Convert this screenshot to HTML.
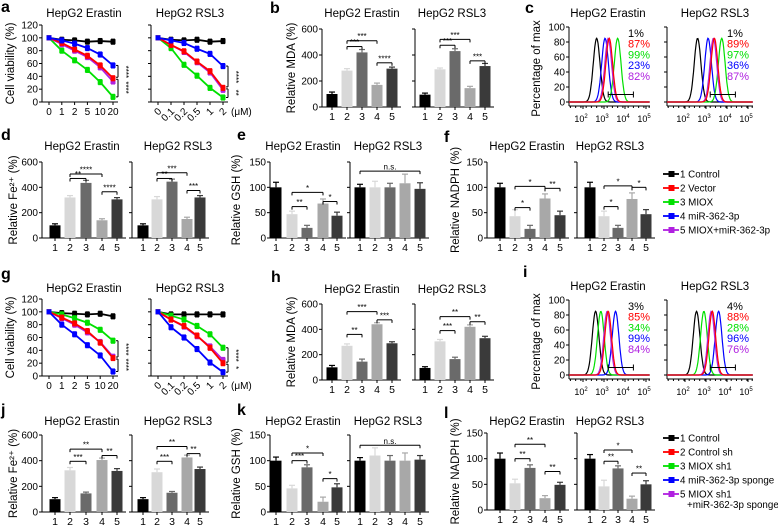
<!DOCTYPE html>
<html><head><meta charset="utf-8"><style>
body{margin:0;background:#fff}
svg{display:block;font-family:"Liberation Sans",Arial,sans-serif}
</style></head><body>
<svg id="fig" width="778" height="526" viewBox="0 0 778 526" xmlns="http://www.w3.org/2000/svg"></svg>
<script>
// ---------- DATA ----------
const lineCatsE = ["0","1","2","5","10","20"];
const lineCatsR = ["0","0.1","0.2","0.5","1","2"];
const seriesColors = ["#000000","#ff0000","#00e000","#0000ff","#b020e0"];
const aErastin = [[100,97,96,94,95,94],[100,92,82,72,57,37],[100,80,65,50,31,8],[100,96,91,84,74,57],[100,90,80,70,54,32]];
const aRSL3 = [[100,97,96,97,94,95],[100,89,79,63,48,22],[100,84,58,41,22,7],[100,96,92,83,75,56],[100,89,78,62,46,19]];
const gErastin = [[100,98,97,96,97,93],[100,91,82,70,52,28],[100,96,90,83,72,55],[100,80,65,48,32,7],[100,90,80,68,53,30]];
const gRSL3 = [[100,96,96,96,96,96],[100,88,78,63,44,20],[100,94,88,78,65,44],[100,76,60,42,21,6],[100,88,77,62,46,25]];
const viabTicks = [0,20,40,60,80,100,120];

const barCats = ["1","2","3","4","5"];
const barColors = ["#000000","#d8d8d8","#6a6a6a","#a8a8a8","#3a3a3a"];
const bE = [100,280,420,170,295], bEerr = [15,15,22,14,12];
const bR = [95,290,430,145,315], bRerr = [12,10,18,14,20];
const dE = [100,320,435,140,305], dEerr = [12,15,20,12,14];
const dR = [100,305,445,150,320], dRerr = [12,22,20,14,15];
const eE = [100,47,20,68,44], eEerr = [10,6,5,9,7];
const eR = [100,100,100,108,97], eRerr = [6,12,8,18,12];
const fE = [100,43,18,78,45], fEerr = [8,13,7,9,8];
const fR = [100,43,20,77,47], fRerr = [10,10,5,12,9];
const hE = [100,270,145,440,290], hEerr = [15,15,20,12,12];
const hR = [95,305,165,420,330], hRerr = [10,15,15,15,15];
const jE = [100,325,145,405,320], jEerr = [12,22,10,15,18];
const jR = [100,310,150,425,335], jRerr = [12,25,10,18,15];
const kE = [100,46,87,20,48], kEerr = [7,6,5,9,7];
const kR = [100,110,100,100,102], kRerr = [6,15,10,15,8];
const lE = [100,52,82,23,49], lEerr = [11,8,6,5,5];
const lR = [100,46,81,22,50], lRerr = [8,12,5,5,7];
const mdaTicks = [0,200,400,600];
const pctTicks = [0,50,100,150];

const flowTicks = [0,20,40,60,80,100];
const cEpeaks = [2.65,3.25,3.65,3.05,3.2];
const cRpeaks = [2.6,3.4,3.75,3.1,3.35];
const iEpeaks = [2.6,3.2,2.85,3.55,3.15];
const iRpeaks = [2.55,3.3,2.9,3.6,3.25];
const cEpct = ["1%","87%","99%","23%","82%"];
const cRpct = ["1%","89%","97%","36%","87%"];
const iEpct = ["3%","85%","34%","99%","84%"];
const iRpct = ["4%","88%","28%","96%","76%"];
const legend1 = ["1 Control","2 Vector","3 MIOX","4 miR-362-3p","5 MIOX+miR-362-3p"];
const legend2 = ["1 Control","2 Control sh","3 MIOX sh1","4 miR-362-3p sponge","5 MIOX sh1"];

// ---------- HELPERS ----------
const S = document.getElementById('fig');
const NS = "http://www.w3.org/2000/svg";
function el(tag, attrs, parent){ const e=document.createElementNS(NS,tag); for(const k in attrs) e.setAttribute(k,attrs[k]); (parent||S).appendChild(e); return e; }
function grp(name){ const g=el('g',{});   return g; }
function T(g,x,y,s,o){ o=o||{}; const t=el('text',{x:x,y:y,'font-size':o.fs||10,'text-anchor':o.a||'middle',fill:o.fill||'#000','font-weight':o.fw||'normal'},g); if(o.rot) t.setAttribute('transform','rotate('+o.rot+' '+x+' '+y+')'); t.textContent=s; return t; }
function L(g,x1,y1,x2,y2,c,w){ return el('line',{x1:x1,y1:y1,x2:x2,y2:y2,stroke:c||'#000','stroke-width':w||1},g); }
function letter(s,x,y){ const t=T(S,x,y,s,{fs:16,fw:'bold',a:'start'});   }

function yAxis(g,ax,y0,ytop,vmax,ticks,labels){
  L(g,ax,y0,ax,ytop);
  ticks.forEach(v=>{ const y=y0-(v/vmax)*(y0-ytop); L(g,ax-3,y,ax,y); if(labels) T(g,ax-4,y+3.5,String(v),{a:'end',fs:10}); });
}

function barPanel(name,p){
  const g=grp(name);
  const sy=v=>p.y0-(v/p.vmax)*(p.y0-p.ytop);
  yAxis(g,p.ax,p.y0,p.ytop,p.vmax,p.ticks,p.labels);
  L(g,p.ax,p.y0,p.xs[4]+9,p.y0);
  p.vals.forEach((v,i)=>{
    const b=el('rect',{x:p.xs[i]-5.5,y:sy(v),width:11,height:p.y0-sy(v),fill:barColors[i]},g);
     
    const ye=sy(v+p.errs[i]);
    L(g,p.xs[i],sy(v),p.xs[i],ye,barColors[i],1.2); L(g,p.xs[i]-3,ye,p.xs[i]+3,ye,barColors[i],1.2);
    L(g,p.xs[i],p.y0,p.xs[i],p.y0+3);
    T(g,p.xs[i],p.y0+13,barCats[i],{fs:10.5});
  });
  (p.sig||[]).forEach(s=>{ const y=sy(s[2]); L(g,p.xs[s[0]],y,p.xs[s[1]],y); L(g,p.xs[s[0]],y,p.xs[s[0]],y+3); L(g,p.xs[s[1]],y,p.xs[s[1]],y+3); T(g,(p.xs[s[0]]+p.xs[s[1]])/2,y-1.5,s[3],{fs:8}); });
  if(p.ylabel) T(g,p.ylx,(p.y0+p.ytop)/2,p.ylabel,{rot:-90,fs:11.5});
  T(g,p.tx,p.ty,p.title,{fs:11.5});
}

function linePanel(name,p){
  const g=grp(name);
  const sy=v=>p.y0-(v/120)*(p.y0-p.ytop);
  const sx=i=>p.x0+i*(p.x1-p.x0)/5;
  yAxis(g,p.ax,p.y0,p.ytop,120,viabTicks,p.labels);
  L(g,p.ax,p.y0,p.x1+5,p.y0);
  p.cats.forEach((c,i)=>{ L(g,sx(i),p.y0,sx(i),p.y0+3); if(p.rot) T(g,sx(i)+4,p.y0+10,c,{a:'end',rot:-45,fs:10}); else T(g,sx(i),p.y0+13,c,{fs:10}); });
  if(p.unit) T(g,p.x1+8,p.y0+13,'(μM)',{a:'start',fs:10});
  [0,2,4,1,3].forEach(k=>{
    const d=p.data[k]; const c=seriesColors[k];
    const pl=el('polyline',{points:d.map((v,i)=>sx(i)+','+sy(v)).join(' '),fill:'none',stroke:c,'stroke-width':1.8},g);
     
    d.forEach((v,i)=>{ const e=i?4:0; L(g,sx(i),sy(v+e),sx(i),sy(v-e),c,1); L(g,sx(i)-2,sy(v+e),sx(i)+2,sy(v+e),c,1); L(g,sx(i)-2,sy(v-e),sx(i)+2,sy(v-e),c,1); el('rect',{x:sx(i)-2.5,y:sy(v)-2.5,width:5,height:5,fill:c},g); });
  });
  const bx=p.x1+5; const ys=[p.data[p.top][5],p.data[1][5],p.data[p.low][5]].map(sy);
  L(g,bx,ys[0],bx,ys[1]-1); L(g,bx-2,ys[0],bx,ys[0]); L(g,bx-2,ys[1]-1,bx,ys[1]-1);
  L(g,bx,ys[1]+1,bx,ys[2]); L(g,bx-2,ys[1]+1,bx,ys[1]+1); L(g,bx-2,ys[2],bx,ys[2]);
  T(g,bx+5,(ys[0]+ys[1])/2,p.s1,{rot:90,fs:8}); T(g,bx+5,(ys[1]+ys[2])/2,p.s2,{rot:90,fs:8});
  if(p.ylabel) T(g,14,(p.y0+p.ytop)/2,p.ylabel,{rot:-90,fs:11.5});
  T(g,p.tx,p.ty,p.title,{fs:11.5});
}

function flowPanel(name,p){
  const g=grp(name);
  const sy=v=>p.y0-(v/100)*(p.y0-p.ytop);
  const sx=lg=>p.x2+(lg-2)*21;
  L(g,p.xl,p.y0+4,p.xl,p.ytop); L(g,p.xl,p.y0+4,p.xr,p.y0+4);
  flowTicks.forEach(v=>{ L(g,p.xl-3,sy(v),p.xl,sy(v)); if(p.labels) T(g,p.xl-4,sy(v)+3.5,String(v),{a:'end',fs:10}); });
  [2,3,4,5].forEach(d=>{ L(g,sx(d),p.y0+4,sx(d),p.y0+7); const t=T(g,sx(d)-2,p.y0+20,'10',{fs:9}); const s=el('tspan',{dy:-4,'font-size':6},t); s.textContent=String(d); });
  const lo=(p.xl-p.x2)/21+2, hi=(p.xr-p.x2)/21+2;
  for(let lg=Math.ceil(lo*10)/10; lg<hi; lg+=0.25){ L(g,sx(lg),p.y0+4,sx(lg),p.y0+6); }
  [0,3,2,4,1].forEach(k=>{
    const pts=[]; for(let lg=lo; lg<=hi; lg+=0.03){ const v=85*Math.exp(-Math.pow(lg-p.peaks[k],2)/(2*0.16*0.16)); pts.push(sx(lg).toFixed(1)+','+sy(v).toFixed(1)); }
    const pl=el('polyline',{points:pts.join(' '),fill:'none',stroke:seriesColors[k],'stroke-width':1.2},g);
     
  });
  const by=sy(10); L(g,sx(3.2),by,sx(4.4),by); L(g,sx(3.2),by-3,sx(3.2),by+3); L(g,sx(4.4),by-3,sx(4.4),by+3);
  p.pct.forEach((s,k)=>T(g,p.px,p.ytop+10+k*10.7,s,{fs:11,a:'start',fill:seriesColors[k]}));
  if(p.ylabel) T(g,p.ylx,(p.y0+p.ytop)/2+4,p.ylabel,{rot:-90,fs:11.5});
  T(g,p.tx,p.ty,p.title,{fs:11.5});
}

function legend(name,items,x,ys,extra){
  const g=grp(name);
  items.forEach((s,k)=>{ const y=ys[k]; L(g,x,y,x+16,y,seriesColors[k],1.8); el('rect',{x:x+5.5,y:y-3,width:6,height:6,fill:seriesColors[k]},g); const t=T(g,x+17,y+3.5,s,{a:'start',fs:9.8});   });
  if(extra) T(g,x+24,ys[4]+14,extra,{a:'start',fs:9.8});
}

// ---------- PANELS ----------
const bxL=[332,347,362,377,392], bxR=[425,440,455,470,485];
const dxL=[55,70,86,102,117], dxR=[143,157,172,187,200];
const exL=[276,292,307,323,337], exR=[360,375,390,405,420];
const fxL=[500,515,530,545,560], fxR=[590,604,618,632,646];

// Row 1
letter('a',1,12); letter('b',270,13); letter('c',525,13);
linePanel('panel-a-erastin',{ax:42,x0:49,x1:113,y0:102,ytop:25,data:aErastin,cats:lineCatsE,labels:true,ylabel:'Cell viability (%)',title:'HepG2 Erastin',tx:84,ty:17,top:3,low:2,s1:'****',s2:'****'});
linePanel('panel-a-rsl3',{ax:151,x0:158,x1:223,y0:102,ytop:25,data:aRSL3,cats:lineCatsR,rot:true,unit:true,title:'HepG2 RSL3',tx:190,ty:17,top:3,low:2,s1:'****',s2:'**'});
barPanel('panel-b-erastin',{ax:322,y0:107,ytop:29,vmax:600,ticks:mdaTicks,labels:true,xs:bxL,vals:bE,errs:bEerr,ylabel:'Relative MDA (%)',ylx:295,title:'HepG2 Erastin',tx:362,ty:17,sig:[[1,3,510,'***'],[1,2,465,'***'],[3,4,340,'****']]});
barPanel('panel-b-rsl3',{ax:415,y0:107,ytop:29,vmax:600,ticks:mdaTicks,xs:bxR,vals:bR,errs:bRerr,title:'HepG2 RSL3',tx:452,ty:17,sig:[[1,3,520,'***'],[1,2,475,'***'],[3,4,355,'***']]});
flowPanel('panel-c-erastin',{xl:569,xr:650,x2:583,y0:102,ytop:27,peaks:cEpeaks,pct:cEpct,px:628,labels:true,ylabel:'Percentage of max',ylx:540,title:'HepG2 Erastin',tx:608,ty:17});
flowPanel('panel-c-rsl3',{xl:667,xr:753,x2:685,y0:102,ytop:27,peaks:cRpeaks,pct:cRpct,px:727,title:'HepG2 RSL3',tx:715,ty:17});

// Row 2
letter('d',1,140); letter('e',237,140); letter('f',444,142);
barPanel('panel-d-erastin',{ax:42,y0:238,ytop:162,vmax:600,ticks:mdaTicks,labels:true,xs:dxL,vals:dE,errs:dEerr,ylabel:'Relative Fe²⁺ (%)',ylx:17,title:'HepG2 Erastin',tx:82,ty:150,sig:[[1,3,505,'****'],[1,2,470,'**'],[3,4,365,'****']]});
barPanel('panel-d-rsl3',{ax:132,y0:238,ytop:162,vmax:600,ticks:mdaTicks,xs:dxR,vals:dR,errs:dRerr,title:'HepG2 RSL3',tx:178,ty:150,sig:[[1,3,515,'***'],[1,2,470,'**'],[3,4,375,'***']]});
barPanel('panel-e-erastin',{ax:270,y0:238,ytop:162,vmax:150,ticks:pctTicks,labels:true,xs:exL,vals:eE,errs:eEerr,ylabel:'Relative GSH (%)',ylx:240,title:'HepG2 Erastin',tx:303,ty:150,sig:[[1,3,90,'*'],[1,2,62,'**'],[3,4,72,'*']]});
barPanel('panel-e-rsl3',{ax:350,y0:238,ytop:162,vmax:150,ticks:pctTicks,xs:exR,vals:eR,errs:eRerr,title:'HepG2 RSL3',tx:388,ty:150,sig:[[0,4,132,'n.s.']]});
barPanel('panel-f-erastin',{ax:487,y0:238,ytop:162,vmax:150,ticks:pctTicks,labels:true,xs:fxL,vals:fE,errs:fEerr,ylabel:'Relative NADPH (%)',ylx:459,title:'HepG2 Erastin',tx:527,ty:150,sig:[[1,3,102,'*'],[1,2,60,'*'],[3,4,98,'**']]});
barPanel('panel-f-rsl3',{ax:577,y0:238,ytop:162,vmax:150,ticks:pctTicks,xs:fxR,vals:fR,errs:fRerr,title:'HepG2 RSL3',tx:610,ty:150,sig:[[1,3,103,'*'],[1,2,62,'*'],[3,4,100,'*']]});
legend('legend-top',legend1,663,[174,188,202,216,230]);

// Row 3
letter('g',1,279); letter('h',271,282); letter('i',523,277);
linePanel('panel-g-erastin',{ax:42,x0:49,x1:113,y0:376,ytop:299,data:gErastin,cats:lineCatsE,labels:true,ylabel:'Cell viability (%)',title:'HepG2 Erastin',tx:84,ty:292,top:2,low:3,s1:'****',s2:'****'});
linePanel('panel-g-rsl3',{ax:151,x0:158,x1:223,y0:376,ytop:299,data:gRSL3,cats:lineCatsR,rot:true,unit:true,title:'HepG2 RSL3',tx:190,ty:292,top:2,low:3,s1:'****',s2:'*'});
barPanel('panel-h-erastin',{ax:322,y0:380,ytop:304,vmax:600,ticks:mdaTicks,labels:true,xs:bxL,vals:hE,errs:hEerr,ylabel:'Relative MDA (%)',ylx:295,title:'HepG2 Erastin',tx:362,ty:293,sig:[[1,3,540,'***'],[1,2,360,'**'],[3,4,475,'***']]});
barPanel('panel-h-rsl3',{ax:415,y0:380,ytop:304,vmax:600,ticks:mdaTicks,xs:bxR,vals:hR,errs:hRerr,title:'HepG2 RSL3',tx:452,ty:293,sig:[[1,3,500,'**'],[1,2,390,'***'],[3,4,460,'**']]});
flowPanel('panel-i-erastin',{xl:569,xr:650,x2:583,y0:375,ytop:300,peaks:iEpeaks,pct:iEpct,px:628,labels:true,ylabel:'Percentage of max',ylx:540,title:'HepG2 Erastin',tx:608,ty:290});
flowPanel('panel-i-rsl3',{xl:667,xr:753,x2:685,y0:375,ytop:300,peaks:iRpeaks,pct:iRpct,px:727,title:'HepG2 RSL3',tx:715,ty:290});

// Row 4
letter('j',1,415); letter('k',237,415); letter('l',444,418);
barPanel('panel-j-erastin',{ax:42,y0:512,ytop:435,vmax:600,ticks:mdaTicks,labels:true,xs:dxL,vals:jE,errs:jEerr,ylabel:'Relative Fe²⁺ (%)',ylx:17,title:'HepG2 Erastin',tx:82,ty:425,sig:[[1,3,490,'**'],[1,2,395,'***'],[3,4,440,'**']]});
barPanel('panel-j-rsl3',{ax:132,y0:512,ytop:435,vmax:600,ticks:mdaTicks,xs:dxR,vals:jR,errs:jRerr,title:'HepG2 RSL3',tx:178,ty:425,sig:[[1,3,510,'**'],[1,2,395,'***'],[3,4,455,'**']]});
barPanel('panel-k-erastin',{ax:270,y0:512,ytop:435,vmax:150,ticks:pctTicks,labels:true,xs:exL,vals:kE,errs:kEerr,ylabel:'Relative GSH (%)',ylx:240,title:'HepG2 Erastin',tx:303,ty:425,sig:[[1,3,115,'*'],[1,2,100,'***'],[3,4,65,'*']]});
barPanel('panel-k-rsl3',{ax:350,y0:512,ytop:435,vmax:150,ticks:pctTicks,xs:exR,vals:kR,errs:kRerr,title:'HepG2 RSL3',tx:388,ty:425,sig:[[0,4,130,'n.s.']]});
barPanel('panel-l-erastin',{ax:487,y0:510,ytop:433,vmax:150,ticks:pctTicks,labels:true,xs:fxL,vals:lE,errs:lEerr,ylabel:'Relative NADPH (%)',ylx:459,title:'HepG2 Erastin',tx:527,ty:425,sig:[[1,3,128,'**'],[1,2,100,'**'],[3,4,75,'**']]});
barPanel('panel-l-rsl3',{ax:577,y0:510,ytop:433,vmax:150,ticks:pctTicks,xs:fxR,vals:lR,errs:lRerr,title:'HepG2 RSL3',tx:610,ty:425,sig:[[1,3,117,'*'],[1,2,95,'**'],[3,4,72,'**']]});
legend('legend-bottom',legend2,663,[438,452,466,480,494],'+miR-362-3p sponge');
</script>
</body></html>
